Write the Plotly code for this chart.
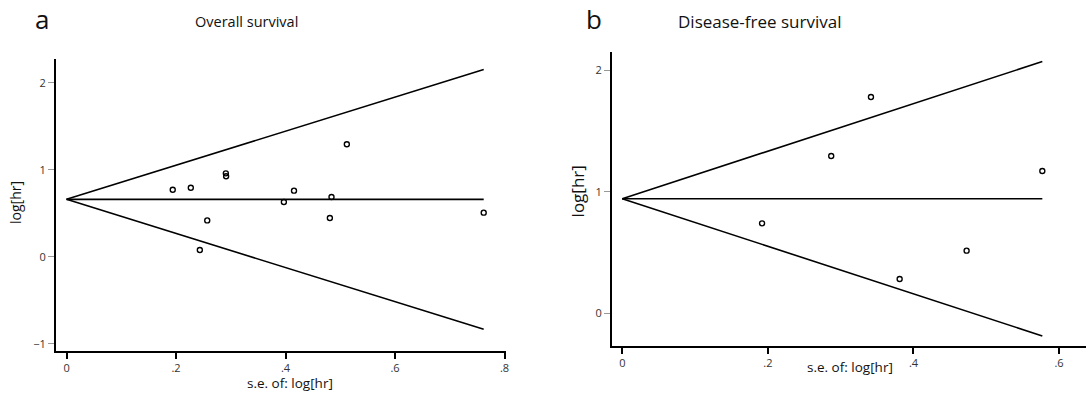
import plotly.graph_objects as go

# Panel a: Overall survival
os_se = [0.194, 0.227, 0.257, 0.2435, 0.291, 0.2915, 0.397, 0.4155, 0.484, 0.481, 0.512, 0.762]
os_loghr = [0.771, 0.794, 0.418, 0.077, 0.959, 0.925, 0.629, 0.760, 0.687, 0.445, 1.293, 0.507]
os_pooled = 0.66

# Panel b: Disease-free survival
dfs_se = [0.192, 0.287, 0.3416, 0.381, 0.473, 0.577]
dfs_loghr = [0.739, 1.294, 1.780, 0.280, 0.514, 1.170]
dfs_pooled = 0.942

z = 1.96

x_ticks_a = [0, 0.2, 0.4, 0.6, 0.8]
x_ticklabels_a = ["0", ".2", ".4", ".6", ".8"]
y_ticks_a = [-1, 0, 1, 2]
y_ticklabels_a = ["\u22121", "0", "1", "2"]
x_ticks_b = [0, 0.2, 0.4, 0.6]
x_ticklabels_b = ["0", ".2", ".4", ".6"]
y_ticks_b = [0, 1, 2]
y_ticklabels_b = ["0", "1", "2"]

FONT = "Open Sans"
W, H = 1091, 395

fig = go.Figure()

def add_panel(se, lhr, pooled, xa, ya):
    smax = max(se)
    line = dict(color="black", width=1.6)
    fig.add_trace(go.Scatter(x=[0, smax], y=[pooled, pooled + z * smax], mode="lines",
                             line=line, xaxis=xa, yaxis=ya, showlegend=False, hoverinfo="skip"))
    fig.add_trace(go.Scatter(x=[0, smax], y=[pooled, pooled - z * smax], mode="lines",
                             line=line, xaxis=xa, yaxis=ya, showlegend=False, hoverinfo="skip"))
    fig.add_trace(go.Scatter(x=[0, smax], y=[pooled, pooled], mode="lines",
                             line=line, xaxis=xa, yaxis=ya, showlegend=False, hoverinfo="skip"))
    fig.add_trace(go.Scatter(x=se, y=lhr, mode="markers",
                             marker=dict(symbol="circle-open", size=5, color="black",
                                         line=dict(width=1.4, color="black")),
                             xaxis=xa, yaxis=ya, showlegend=False))

add_panel(os_se, os_loghr, os_pooled, "x", "y")
add_panel(dfs_se, dfs_loghr, dfs_pooled, "x2", "y2")

axis_common = dict(showgrid=False, zeroline=False, showline=True, linecolor="black",
                   linewidth=1.8, ticks="outside", ticklen=6,
                   tickfont=dict(family=FONT, size=11, color="#333"))

fig.update_layout(
    width=W, height=H, margin=dict(l=0, r=0, t=0, b=0),
    plot_bgcolor="white", paper_bgcolor="white",
    xaxis=dict(domain=[56 / W, 507 / W], range=[-0.0195, 0.802], anchor="y",
               tickvals=x_ticks_a, ticktext=x_ticklabels_a, tickwidth=2.2, tickcolor="black",
               **axis_common),
    yaxis=dict(domain=[1 - 350.7 / H, 1 - 59.3 / H], range=[-1.08, 2.27], anchor="x",
               tickvals=y_ticks_a, ticktext=y_ticklabels_a, tickwidth=1, tickcolor="#999",
               **axis_common),
    xaxis2=dict(domain=[613.7 / W, 1089 / W], range=[-0.0141, 0.637], anchor="y2",
                tickvals=x_ticks_b, ticktext=x_ticklabels_b, tickwidth=2.2, tickcolor="black",
                **axis_common),
    yaxis2=dict(domain=[1 - 346 / H, 1 - 51.7 / H], range=[-0.272, 2.154], anchor="x2",
                tickvals=y_ticks_b, ticktext=y_ticklabels_b, tickwidth=1, tickcolor="#999",
                **axis_common),
)

def ann(text, x, y, size, angle=0, color="#111"):
    fig.add_annotation(text=text, x=x / W, y=1 - y / H, xref="paper", yref="paper",
                       showarrow=False, textangle=angle, xanchor="center", yanchor="middle",
                       font=dict(family=FONT, size=size, color=color))

ann("a", 42, 19, 26)
ann("Overall survival", 247, 22, 14.5)
ann("b", 596, 19, 26)
ann("Disease-free survival", 762, 22, 17)
ann("log[hr]", 16, 202, 14, angle=-90)
ann("log[hr]", 579, 191, 17, angle=-90)
ann("s.e. of: log[hr]", 291, 383, 13.5)
ann("s.e. of: log[hr]", 852, 367, 13.5)

fig.write_html("out.html",
               config={"displayModeBar": False},
               post_script="document.body.style.margin='0';document.body.style.overflow='hidden';")
